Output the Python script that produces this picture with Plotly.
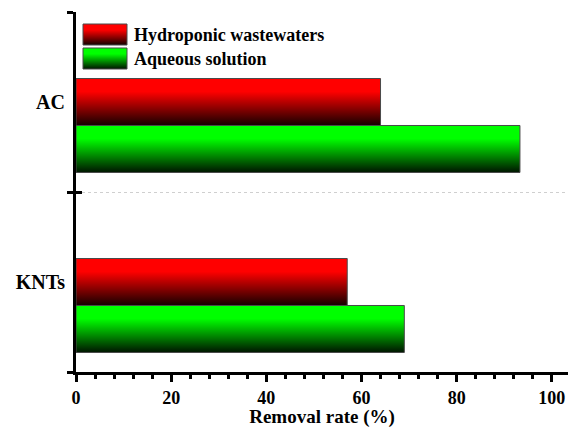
import plotly.graph_objects as go

# ---- data ----
categories = ["KNTs", "AC"]
series_names = ["Hydroponic wastewaters", "Aqueous solution"]
hydroponic = [57, 64]
aqueous = [69, 93.3]
x_ticks = [0, 20, 40, 60, 80, 100]
top_colors = ["#ff0000", "#00ff00"]
bottom_colors = ["#140000", "#001400"]

# ---- layout constants ----
W, H = 577, 428
ML, MR, MT, MB = 76, 9, 12, 56
X_MAX = 103.4
Y_MIN, Y_MAX = -0.5, 1.5
BAR_W = 0.261
FONT = "Liberation Serif"

plot_w = W - ML - MR
plot_h = H - MT - MB


def px_to_x(px):
    return (px - ML) / plot_w * X_MAX


def px_to_y(py):
    return Y_MAX - (py - MT) / plot_h * (Y_MAX - Y_MIN)


def cscale(i):
    return [[0, bottom_colors[i]], [0.72, top_colors[i]], [1, top_colors[i]]]


fig = go.Figure()

series_vals = [hydroponic, aqueous]
for si, vals in enumerate(series_vals):
    for ci, v in enumerate(vals):
        c = ci - si * BAR_W
        y0, y1 = c - BAR_W / 2, c + BAR_W / 2
        fig.add_trace(go.Scatter(
            x=[0, v, v, 0, 0], y=[y0, y0, y1, y1, y0],
            fill="toself", mode="lines",
            line=dict(color="#4a4a4a", width=1),
            fillgradient=dict(type="vertical", colorscale=cscale(si)),
            name=series_names[si], showlegend=False,
            hovertemplate=categories[ci] + "<br>" + series_names[si] + ": %{x}%<extra></extra>",
        ))

# custom legend (large swatches) drawn on the overlay axis (same range as y)
sw_x0, sw_x1 = px_to_x(83), px_to_x(127)
sw_rows = [(24, 45), (48, 69)]
annotations = []
for si, (py0, py1) in enumerate(sw_rows):
    ya, yb = px_to_y(py1), px_to_y(py0)
    fig.add_trace(go.Scatter(
        x=[sw_x0, sw_x1, sw_x1, sw_x0, sw_x0], y=[ya, ya, yb, yb, ya],
        fill="toself", mode="lines", yaxis="y2",
        line=dict(color="#4a4a4a", width=1),
        fillgradient=dict(type="vertical", colorscale=cscale(si)),
        showlegend=False, hoverinfo="skip",
    ))
    annotations.append(dict(
        x=px_to_x(132), y=(ya + yb) / 2, xref="x", yref="y",
        text=series_names[si], showarrow=False, xanchor="left", yanchor="middle",
        font=dict(family=FONT, size=18, color="black", weight="bold"),
    ))

fig.update_layout(
    width=W, height=H,
    margin=dict(l=ML, r=MR, t=MT, b=MB, pad=0, autoexpand=False),
    paper_bgcolor="white", plot_bgcolor="white",
    font=dict(family=FONT, color="black", weight="bold"),
    showlegend=False,
    annotations=annotations,
    xaxis=dict(
        range=[0, X_MAX], tickmode="array", tickvals=x_ticks,
        ticks="outside", ticklen=7, tickwidth=3, tickcolor="black",
        showline=True, linewidth=3, linecolor="black",
        showgrid=False, zeroline=False, automargin=False,
        tickfont=dict(size=18, family=FONT, weight="bold", color="black"),
        minor=dict(tickmode="linear", tick0=0, dtick=4, ticks="outside",
                   ticklen=4, tickwidth=3, tickcolor="black", showgrid=False),
        title=dict(text="Removal rate (%)", standoff=6,
                   font=dict(size=19, family=FONT, weight="bold", color="black")),
        fixedrange=True,
    ),
    yaxis=dict(
        range=[Y_MIN, Y_MAX], tickmode="array", tickvals=[0, 1], ticktext=categories,
        ticks="", showline=True, linewidth=3, linecolor="black",
        showgrid=False, zeroline=False, automargin=False,
        tickfont=dict(size=20, family=FONT, weight="bold", color="black"),
        ticklabelstandoff=4,
        minor=dict(tickmode="array", tickvals=[Y_MIN, 0.5, Y_MAX], ticks="outside",
                   ticklen=6, tickwidth=3, tickcolor="black", showgrid=False),
        fixedrange=True,
    ),
    yaxis2=dict(
        overlaying="y", side="left", range=[Y_MIN, Y_MAX],
        tickmode="array", tickvals=[Y_MIN, 0.5, Y_MAX], ticks="inside",
        ticklen=6, tickwidth=3, tickcolor="black", showticklabels=False,
        showline=False, showgrid=False, zeroline=False, automargin=False,
        minor=dict(tickmode="array", tickvals=[0.5], showgrid=True,
                   gridcolor="#cfcfcf", griddash="dot", gridwidth=1, ticks=""),
        fixedrange=True,
    ),
)

fig.write_html("out.html")
